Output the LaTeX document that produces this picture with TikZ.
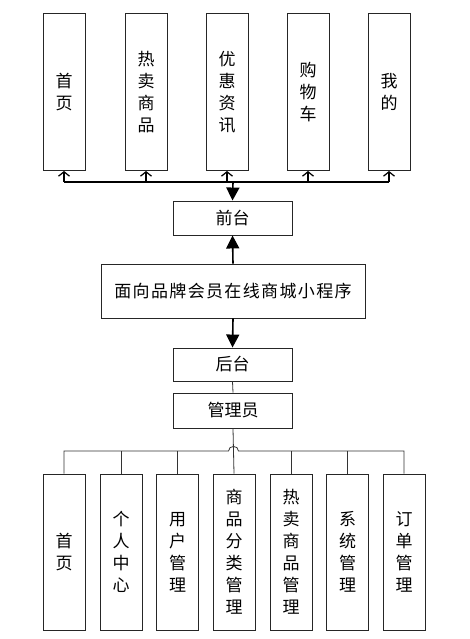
\documentclass[tikz,border=0pt]{standalone}
\usepackage{fontspec}
\setmainfont{Noto Sans CJK SC}
\usetikzlibrary{arrows.meta, positioning}

\begin{document}
\begin{tikzpicture}[x=1pt, y=-1pt,
  box/.style={draw=black!85, line width=0.9pt, fill=white, inner sep=0pt, align=center, font=\fontsize{17}{22}\selectfont},
  tallbox/.style={box, minimum width=42pt, minimum height=157pt},
  flatbox/.style={box, minimum width=119pt, minimum height=34pt},
  bus/.style={line width=1.6pt},
  link/.style={line width=0.8pt, draw=black!80},
  openup/.style={line width=1.6pt, -{Straight Barb[length=4.5pt, width=11pt, line width=1.2pt]}},
  bigarrow/.style={line width=1.6pt, -{Triangle[length=13pt, width=13pt]}}]
  \useasboundingbox (0,0) rectangle (469,639);

  % Front-end pages
  \node[tallbox] (home) at (64, 92) {首\\页};
  \node[tallbox] (hot) at (146, 92) {热\\卖\\商\\品};
  \node[tallbox] (news) at (227, 92) {优\\惠\\资\\讯};
  \node[tallbox] (cart) at (308, 92) {购\\物\\车};
  \node[tallbox] (mine) at (389, 92) {我\\的};

  % Main blocks
  \node[flatbox] (front) at (232.5, 218) {前台};
  \node[box, minimum width=264pt, minimum height=54pt] (app) at (233, 291) {\addfontfeature{LetterSpace=8}面向品牌会员在线商城小程序};
  \node[flatbox, minimum height=33pt] (back) at (232.5, 364.5) {后台};
  \node[flatbox, minimum height=35pt] (admin) at (233, 410.5) {管理员};

  % Back-end modules
  \node[tallbox, minimum height=156pt] (mhome) at (64, 552) {首\\页};
  \node[tallbox, minimum height=156pt] (center) at (121, 552) {个\\人\\中\\心};
  \node[tallbox, minimum height=156pt] (users) at (177.5, 552) {用\\户\\管\\理};
  \node[tallbox, minimum height=156pt] (cats) at (234, 552) {商\\品\\分\\类\\管\\理};
  \node[tallbox, minimum height=156pt] (mhot) at (291, 552) {热\\卖\\商\\品\\管\\理};
  \node[tallbox, minimum height=156pt] (sys) at (347.5, 552) {系\\统\\管\\理};
  \node[tallbox, minimum height=156pt] (orders) at (404, 552) {订\\单\\管\\理};

  % Top bus with arrows to the pages
  \coordinate (topbus) at (233, 182);
  \draw[bus] (home.south |- topbus) -- (mine.south |- topbus);
  \draw[openup] (home.south |- topbus) -- (home.south);
  \draw[openup] (hot.south |- topbus) -- (hot.south);
  \draw[openup] (news.south |- topbus) -- (news.south);
  \draw[openup] (cart.south |- topbus) -- (cart.south);
  \draw[openup] (mine.south |- topbus) -- (mine.south);
  \draw[bigarrow] (topbus) -- (front.north);

  % Program to front and back
  \draw[bigarrow] (app.north) -- (front.south);
  \draw[bigarrow] (app.south) -- (back.north);
  \draw[link] (back.south) -- (admin.north);

  % Admin tree
  \coordinate (hub) at (233, 451);
  \coordinate (hopl) at (228.5, 451);
  \coordinate (hopr) at (238.5, 451);
  \draw[link] (admin.south) -- (cats.north);
  \draw[link] (mhome.north) |- (hopl) .. controls +(0,-6) and +(0,-6) .. (hopr) -| (orders.north);
  \draw[link] (center.north) -- (center.north |- hub);
  \draw[link] (users.north) -- (users.north |- hub);
  \draw[link] (mhot.north) -- (mhot.north |- hub);
  \draw[link] (sys.north) -- (sys.north |- hub);
\end{tikzpicture}
\end{document}
